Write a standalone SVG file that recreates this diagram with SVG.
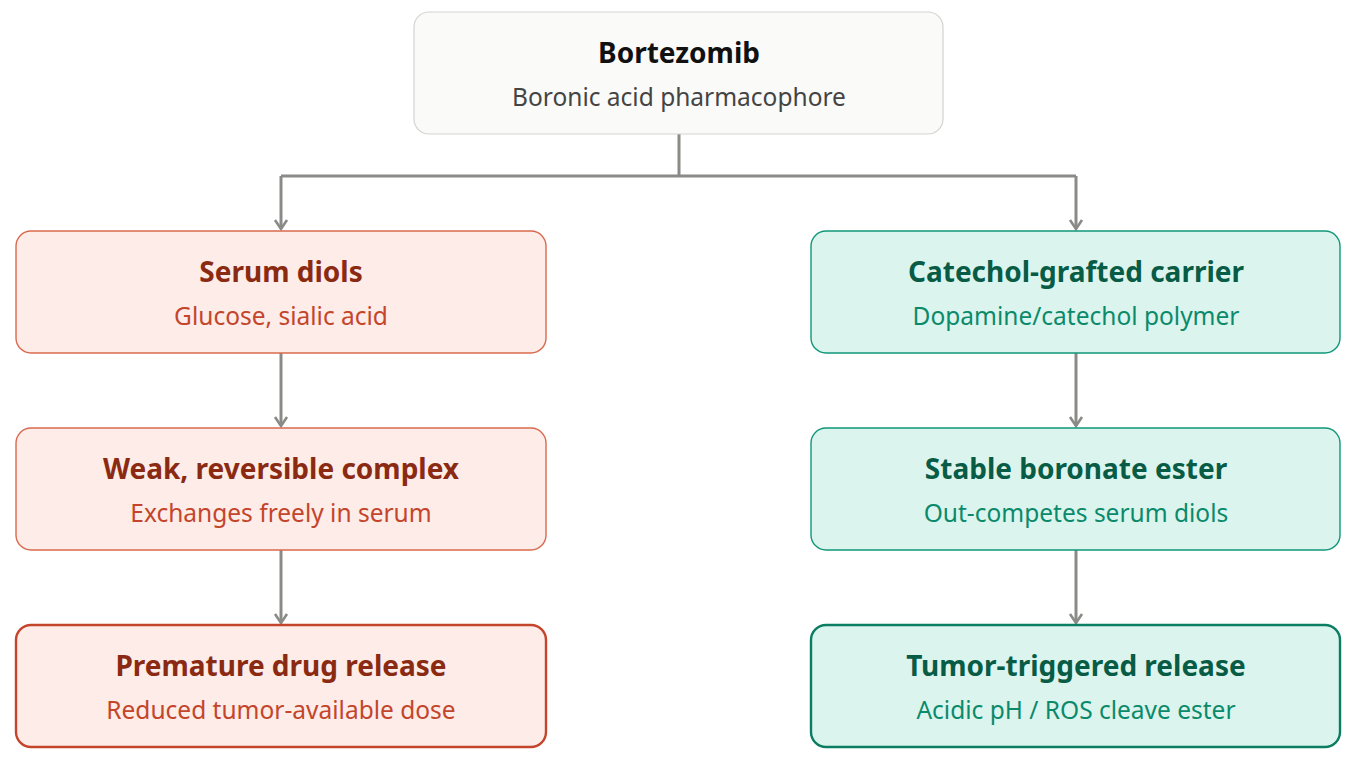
<svg xmlns="http://www.w3.org/2000/svg" width="1356" height="762" viewBox="0 0 1356 762">
<defs>
<marker id="arr" viewBox="0 0 14 14" refX="12" refY="7" markerWidth="14" markerHeight="14" markerUnits="userSpaceOnUse" orient="auto" overflow="visible">
<path d="M3,1 L12,7 L3,13" fill="none" stroke="#8a8a86" stroke-width="2.6" stroke-linejoin="miter"/>
</marker>
</defs>
<style>
.t{font-family:"Noto Sans","Open Sans",sans-serif;font-weight:700;font-size:28px;text-anchor:middle}
.s{font-family:"Noto Sans","Open Sans",sans-serif;font-size:24.5px;text-anchor:middle}
.root rect{fill:#fafaf9;stroke:#d6d3d1;stroke-width:1.2}
.red rect{fill:#fdece7;stroke:#d9694e;stroke-width:1.4}
.red .t{fill:#8a2a12}.red .s{fill:#c4452b}
.grn rect{fill:#dbf5ee;stroke:#10977a;stroke-width:1.4}
.grn .t{fill:#085c46}.grn .s{fill:#0b8a6b}
.red.thick rect{stroke-width:2.4;stroke:#c4452b}
.grn.thick rect{stroke-width:2.4;stroke:#0b7d62}
.edge{fill:none;stroke:#8a8a86;stroke-width:3}
</style>
<g id="connectors">
<path class="edge" d="M679,134 V176 M281,176 H1076"/>
<path class="edge" d="M281,176 V229" marker-end="url(#arr)"/>
<path class="edge" d="M1076,176 V229" marker-end="url(#arr)"/>
<path class="edge" d="M281,353 V426" marker-end="url(#arr)"/>
<path class="edge" d="M281,550 V623" marker-end="url(#arr)"/>
<path class="edge" d="M1076,353 V426" marker-end="url(#arr)"/>
<path class="edge" d="M1076,550 V623" marker-end="url(#arr)"/>
</g>
<g id="bortezomib" class="root">
<rect x="414" y="12" width="529" height="122" rx="15"/>
<text class="t" x="679" y="63" fill="#111">Bortezomib</text>
<text class="s" x="679" y="106" fill="#444">Boronic acid pharmacophore</text>
</g>
<g id="serum-diols" class="red">
<rect x="16" y="231" width="530" height="122" rx="15"/>
<text class="t" x="281" y="282">Serum diols</text>
<text class="s" x="281" y="325">Glucose, sialic acid</text>
</g>
<g id="weak-complex" class="red">
<rect x="16" y="428" width="530" height="122" rx="15"/>
<text class="t" x="281" y="479">Weak, reversible complex</text>
<text class="s" x="281" y="522">Exchanges freely in serum</text>
</g>
<g id="premature-release" class="red thick">
<rect x="16" y="625" width="530" height="122" rx="15"/>
<text class="t" x="281" y="676">Premature drug release</text>
<text class="s" x="281" y="719">Reduced tumor-available dose</text>
</g>
<g id="catechol-carrier" class="grn">
<rect x="811" y="231" width="529" height="122" rx="15"/>
<text class="t" x="1076" y="282">Catechol-grafted carrier</text>
<text class="s" x="1076" y="325">Dopamine/catechol polymer</text>
</g>
<g id="stable-ester" class="grn">
<rect x="811" y="428" width="529" height="122" rx="15"/>
<text class="t" x="1076" y="479">Stable boronate ester</text>
<text class="s" x="1076" y="522">Out-competes serum diols</text>
</g>
<g id="tumor-release" class="grn thick">
<rect x="811" y="625" width="529" height="122" rx="15"/>
<text class="t" x="1076" y="676">Tumor-triggered release</text>
<text class="s" x="1076" y="719">Acidic pH / ROS cleave ester</text>
</g>
</svg>
